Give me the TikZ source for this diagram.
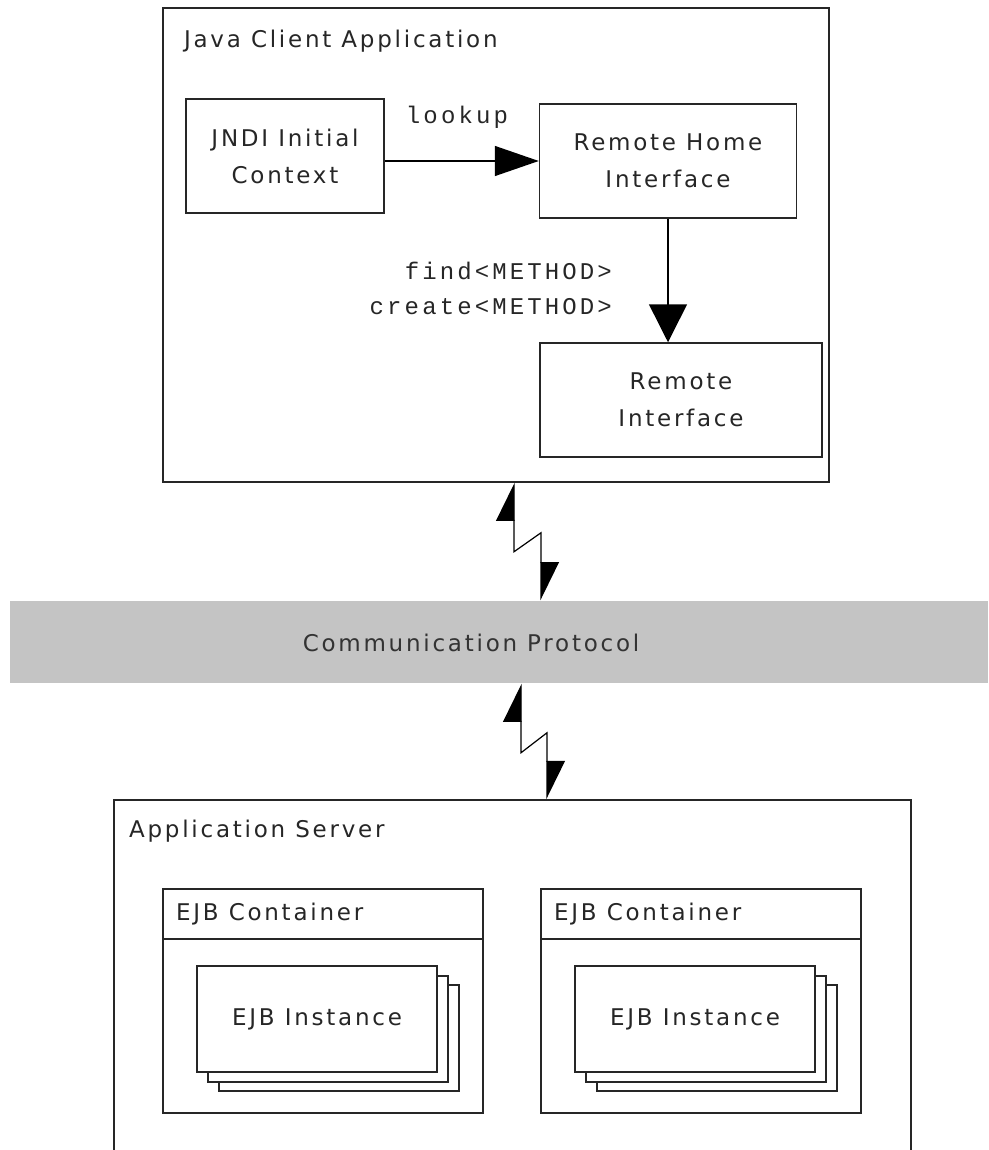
\documentclass[tikz,border=0pt]{standalone}
\usepackage{fontspec}
\usetikzlibrary{arrows.meta,positioning}
\setmainfont{DejaVu Sans}[LetterSpace=12]
\newfontfamily\codefont{Liberation Mono}[LetterSpace=13]
\definecolor{band}{RGB}{196,196,196}

\begin{document}
\begin{tikzpicture}[
    x=1pt, y=-1pt,
    line width=1.5pt, % line style
    > = {Triangle[length=44pt,width=30pt]}, % arrow head style
    box/.style = {draw=black!85, text=black!85, rectangle, align=center,
        font=\fontsize{23}{37}\selectfont},
    card/.style = {box, fill=white, minimum width=240, minimum height=106},
    caption/.style = {anchor=west, text=black!85, font=\fontsize{23}{28}\selectfont},
    code/.style = {text=black!85, font=\codefont\fontsize{24}{35}\selectfont},
    bolt/.style = {line width=1.2pt,
        {Triangle[harpoon,length=37pt,width=36pt]}-{Triangle[harpoon,length=37pt,width=36pt]}},
]
\useasboundingbox (0,0) rectangle (988,1150);
\clip (0,0) rectangle (988,1150);

% client side
\node[box, minimum width=666, minimum height=474] (client) at (496,245) {};
\node[caption] (clientlbl) at (180,41) {Java Client Application};
\node[box, minimum width=198, minimum height=114] (jndi) at (285,156) {JNDI Initial\\Context};
\node[box, minimum width=257, minimum height=114] (rhome) at (668,161) {Remote Home\\Interface};
\node[box, minimum width=282, minimum height=114] (remote) at (681,400) {Remote\\Interface};

\draw[->] (jndi.east |- rhome) -- (rhome.west);
\node[code] (lookup) at (457,117) {lookup};
\draw[-{Triangle[length=38pt,width=38pt]}] (rhome.south) -- (rhome.south |- remote.north);
\node[code, align=right, anchor=east] (calls) at (616,288) {find<METHOD>\\create<METHOD>};

% protocol
\node[fill=band, minimum width=978, minimum height=82] (proto) at (499,642) {};
\node[text=black!80, font=\fontsize{23}{28}\selectfont] (protolbl) at (471,643) {Communication Protocol};

% server side
\node[box, minimum width=797, minimum height=400, anchor=north west] (server) at (113,799) {};
\node[caption] (serverlbl) at (125,831) {Application Server};
\node[box, minimum width=320, minimum height=224, anchor=north west] (cont1) at (162,888) {};
\node[box, minimum width=320, minimum height=224, anchor=north west] (cont2) at (540,888) {};

\foreach \c in {cont1,cont2} {
    \draw[draw=black!85] ([yshift=-51pt]\c.north west) -- ([yshift=-51pt]\c.north east);
    \node[caption] (\c-lbl) at ([shift={(10,26)}]\c.north west) {EJB Container};
    \node[card] (\c-back2) at ([shift={(177,150)}]\c.north west) {};
    \node[card] (\c-back1) at ([shift={(166,141)}]\c.north west) {};
    \node[card] (\c-inst) at ([shift={(155,131)}]\c.north west) {EJB Instance};
}

% lightning links
\draw[bolt] (client.south -| 514,0) -- ++(0,69) -- ++(27,-19) -- (proto.north -| 541,0);
\draw[bolt] (proto.south -| 521,0) -- ++(0,69) -- ++(26,-20) -- (server.north -| 547,0);
\end{tikzpicture}
\end{document}
